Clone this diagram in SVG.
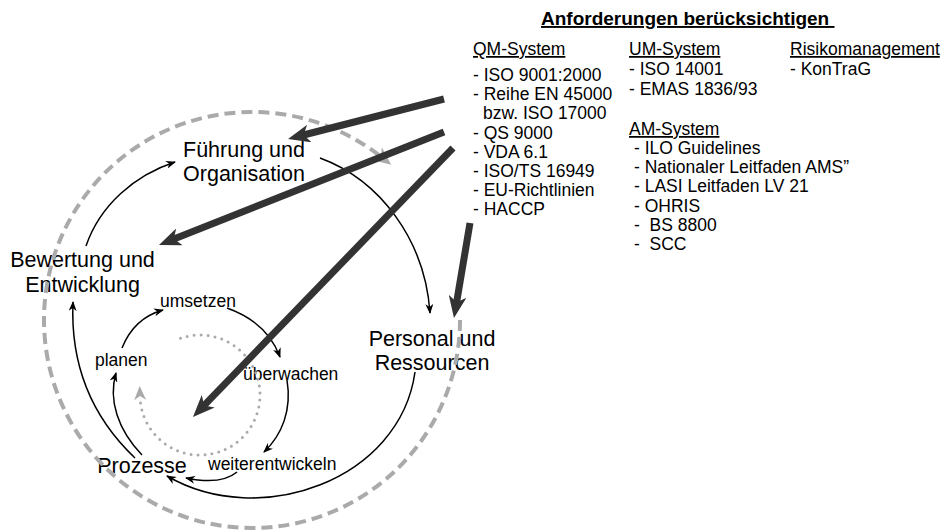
<svg xmlns="http://www.w3.org/2000/svg" width="943" height="531" viewBox="0 0 943 531">
  <defs>
    <style>
      text { font-family: "Liberation Sans", Arial, sans-serif; fill: #000; }
      .big { font-size: 21.5px; text-anchor: middle; }
      .step { font-size: 17.5px; }
      .req { font-size: 17.5px; }
      .head { font-size: 17.5px; text-decoration: underline; }
      .title { font-size: 19px; font-weight: bold; text-decoration: underline; }
      .thick { fill: none; stroke: #333; stroke-width: 7; }
      .thin { fill: none; stroke: #000; stroke-width: 1.5; marker-end: url(#head-thin); }
      .outer { fill: none; stroke: #aaa; stroke-width: 4; stroke-dasharray: 11 6; }
      .inner { fill: none; stroke: #aaa; stroke-width: 3; stroke-dasharray: 0 7; stroke-linecap: round; }
    </style>
    <marker id="head-thick" markerUnits="userSpaceOnUse" markerWidth="22" markerHeight="18" viewBox="0 0 22 18" refX="8" refY="9" orient="auto">
      <path d="M0,0 L22,9 L0,18 L6,9 z" fill="#333"/>
    </marker>
    <marker id="head-thin" markerUnits="userSpaceOnUse" markerWidth="10" markerHeight="8" viewBox="0 0 10 8" refX="9" refY="4" orient="auto">
      <path d="M0,0 L10,4 L0,8 L3,4 z" fill="#000"/>
    </marker>
    <marker id="head-gray" markerUnits="userSpaceOnUse" markerWidth="18" markerHeight="16" viewBox="0 0 18 16" refX="4" refY="8" orient="auto">
      <path d="M0,0 L18,8 L0,16 L5,8 z" fill="#aaa"/>
    </marker>
    <marker id="head-dot" markerUnits="userSpaceOnUse" markerWidth="14" markerHeight="12" viewBox="0 0 14 12" refX="3" refY="6" orient="auto">
      <path d="M0,0 L14,6 L0,12 L4,6 z" fill="#aaa"/>
    </marker>
  </defs>

  <!-- management system cycle -->
  <g id="fuehrung">
    <text class="big" x="244" y="157">Führung und</text>
    <text class="big" x="244" y="181">Organisation</text>
  </g>
  <g id="bewertung">
    <text class="big" x="82.5" y="267">Bewertung und</text>
    <text class="big" x="82.5" y="292">Entwicklung</text>
  </g>
  <g id="personal">
    <text class="big" x="432" y="346">Personal und</text>
    <text class="big" x="432" y="370">Ressourcen</text>
  </g>
  <g id="prozesse">
    <text class="big" x="142" y="473">Prozesse</text>
  </g>

  <!-- inner PDCA cycle -->
  <g id="planen"><text class="step" x="95" y="366">planen</text></g>
  <g id="umsetzen"><text class="step" x="160" y="307">umsetzen</text></g>
  <g id="ueberwachen"><text class="step" x="243" y="380">überwachen</text></g>
  <g id="weiterentwickeln"><text class="step" x="208" y="470">weiterentwickeln</text></g>

  <!-- requirements -->
  <g id="anforderungen">
    <text class="title" x="541" y="25" xml:space="preserve">Anforderungen berücksichtigen </text>
  </g>
  <g id="qm-system">
    <text class="head" x="473" y="55">QM-System</text>
    <text class="req" x="473" y="81">- ISO 9001:2000</text>
    <text class="req" x="473" y="100.2">- Reihe EN 45000</text>
    <text class="req" x="483" y="119.4">bzw. ISO 17000</text>
    <text class="req" x="473" y="138.6">- QS 9000</text>
    <text class="req" x="473" y="157.8">- VDA 6.1</text>
    <text class="req" x="473" y="177">- ISO/TS 16949</text>
    <text class="req" x="473" y="196.2">- EU-Richtlinien</text>
    <text class="req" x="473" y="215.4">- HACCP</text>
  </g>
  <g id="um-system">
    <text class="head" x="629" y="55">UM-System</text>
    <text class="req" x="629" y="75">- ISO 14001</text>
    <text class="req" x="629" y="94.5">- EMAS 1836/93</text>
  </g>
  <g id="am-system">
    <text class="head" x="629" y="135">AM-System</text>
    <text class="req" x="634" y="154">- ILO Guidelines</text>
    <text class="req" x="634" y="173">- Nationaler Leitfaden AMS”</text>
    <text class="req" x="634" y="192.3">- LASI Leitfaden LV 21</text>
    <text class="req" x="634" y="211.5">- OHRIS</text>
    <text class="req" x="634" y="230.7" xml:space="preserve">-  BS 8800</text>
    <text class="req" x="634" y="250" xml:space="preserve">-  SCC</text>
  </g>
  <g id="risikomanagement">
    <text class="head" x="790" y="55">Risikomanagement</text>
    <text class="req" x="790" y="75">- KonTraG</text>
  </g>

  <g id="connectors">
    <!-- cycle arcs -->
    <path class="outer" d="M460,320 A208,208 0 1,1 380.1,156.1" marker-end="url(#head-gray)"/>
    <path class="inner" d="M180.5,338.3 A60,60 0 1,1 140.04,397.1" marker-end="url(#head-dot)"/>

    <!-- outer cycle -->
    <path class="thin" d="M86,246 C100,205 135,175 175,162"/>
    <path class="thin" d="M320,158 C380,180 425,240 430,313"/>
    <path class="thin" d="M415,372 C400,480 260,530 167,476"/>
    <path class="thin" d="M135,458 C95,420 70,370 73,302"/>

    <!-- inner cycle -->
    <path class="thin" d="M142,455 C118,430 108,400 116,373"/>
    <path class="thin" d="M122,348 C130,328 145,315 163,310"/>
    <path class="thin" d="M227,308 C255,318 272,335 280,357"/>
    <path class="thin" d="M287,380 C292,410 282,435 264,452"/>
    <path class="thin" d="M237,472 C225,482 205,482 186,478"/>

    <!-- requirement arrows -->
    <path class="thick" d="M444,99 L301.6,135.5" marker-end="url(#head-thick)"/>
    <path class="thick" d="M444,132 L172,239.8" marker-end="url(#head-thick)"/>
    <path class="thick" d="M453,148 L202.7,406.9" marker-end="url(#head-thick)"/>
    <path class="thick" d="M470,223 L456.3,304.2" marker-end="url(#head-thick)"/>
  </g>
</svg>
